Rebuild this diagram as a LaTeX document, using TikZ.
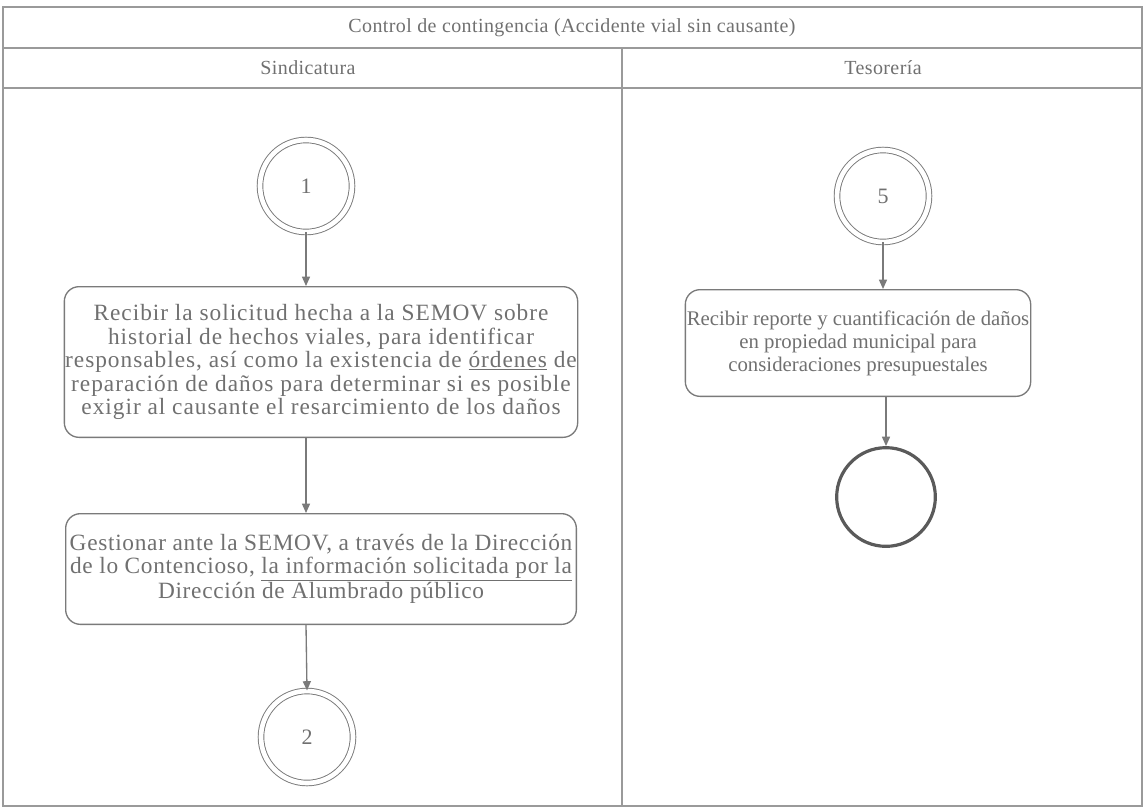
\documentclass[tikz,border=0pt]{standalone}
\usepackage{fontspec}
\setmainfont{Liberation Serif}
\usetikzlibrary{arrows.meta}
\definecolor{txt}{HTML}{707070}
\definecolor{bord}{HTML}{7A7A7A}
\definecolor{grid}{HTML}{9A9A9A}
\definecolor{endc}{HTML}{5A5A5A}
\begin{document}
\begin{tikzpicture}[x=0.75pt,y=-0.75pt,
  txtstyle/.style={text=txt,font=\fontsize{16.5}{17.6}\selectfont,align=center},
  headtxt/.style={text=txt,font=\fontsize{15}{16}\selectfont\addfontfeature{LetterSpace=2}},
  procbox/.style={draw=bord,line width=1pt,rounded corners=11pt,inner sep=0pt,txtstyle},
  conn/.style={circle,double=white,draw=bord,line width=0.7pt,double distance=3.5pt,minimum size=69pt,inner sep=0pt,txtstyle},
  endnode/.style={circle,draw=endc,line width=2.4pt,minimum size=74pt,inner sep=0pt},
  flow/.style={draw=bord,line width=1pt,-{Triangle[length=7pt,width=6pt]}},
  lane/.style={draw=grid,line width=0.9pt}]
\useasboundingbox (0,0) rectangle (1145,811);
% lanes
\draw[lane] (3,7) rectangle (1142,806);
\draw[lane] (3,48) -- (1142,48);
\draw[lane] (3,88) -- (1142,88);
\draw[lane] (622,48) -- (622,806);
\node[headtxt] (title) at (572,28) {Control de contingencia (Accidente vial sin causante)};
\node[headtxt] (h1) at (308,68) {Sindicatura};
\node[headtxt] (h2) at (883,68) {Tesorería};
% Sindicatura
\node[conn] (c1) at (306,186) {1};
\node[procbox,minimum width=385pt,minimum height=113pt,font=\fontsize{17.5}{17.6}\selectfont\addfontfeature{LetterSpace=4.2}] (b1) at (321,362)
 {Recibir la solicitud hecha a la SEMOV sobre\\historial de hechos viales, para identificar\\responsables, así como la existencia de \underline{órdenes} de\\reparación de daños para determinar si es posible\\exigir al causante el resarcimiento de los daños};
\node[procbox,minimum width=383pt,minimum height=83pt,font=\fontsize{17.5}{17.6}\selectfont\addfontfeature{LetterSpace=3}] (b2) at (321,569)
 {Gestionar ante la SEMOV, a través de la Dirección\\de lo Contencioso, \underline{la información solicitada por la}\\Dirección de Alumbrado público};
\node[conn] (c2) at (307,737) {2};
% Tesoreria
\node[conn] (c5) at (883,196) {5};
\node[procbox,minimum width=259pt,minimum height=80pt,font=\fontsize{15.6}{17.2}\selectfont] (b3) at (858,343)
 {Recibir reporte y cuantificación de daños\\en propiedad municipal para\\consideraciones presupuestales};
\node[endnode] (e) at (886,497) {};
% flows
\draw[flow] (c1.south) -- (c1.south |- b1.north);
\draw[flow] (c1.south |- b1.south) -- (c1.south |- b2.north);
\draw[flow] (c1.south |- b2.south) -- (c2.north);
\draw[flow] (c5.south) -- (c5.south |- b3.north);
\draw[flow] (e.north |- b3.south) -- (e.north);
\end{tikzpicture}
\end{document}
